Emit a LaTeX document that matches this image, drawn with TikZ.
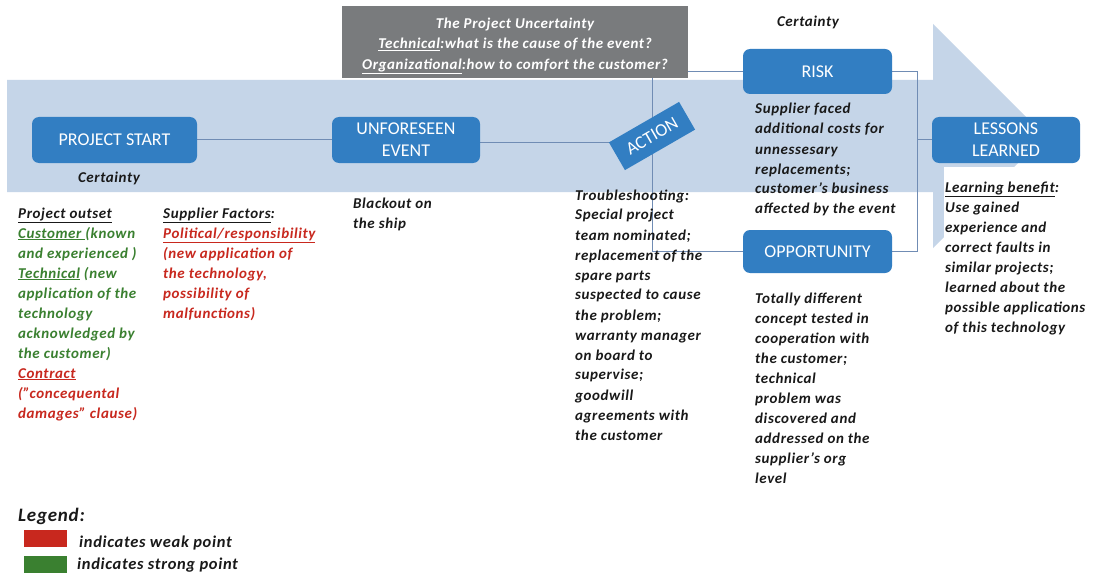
\documentclass[tikz,border=0pt]{standalone}
\usepackage{fontspec}
\setmainfont{Carlito}
\newfontfamily\bodyfont[LetterSpace=4]{Carlito}
\usetikzlibrary{backgrounds}
\definecolor{bandblue}{RGB}{197,213,232}
\definecolor{boxblue}{RGB}{50,126,194}
\definecolor{linkblue}{RGB}{112,140,180}
\definecolor{hdrgray}{RGB}{121,123,125}
\definecolor{okgreen}{RGB}{58,128,48}
\definecolor{weakred}{RGB}{200,40,30}
\definecolor{inkblack}{RGB}{25,25,25}
% left-aligned line stack whose baseline is that of its first line
\newcommand\stack[1]{\vtop{\halign{##\hfil\cr#1\crcr}}}
\newcommand\uln[1]{\underline{#1}}
\newcommand\bodytxt{\bodyfont\bfseries\itshape\fontsize{15}{20}\selectfont}
\newcommand\labeltxt{\fontsize{18}{22}\selectfont}
\begin{document}
\begin{tikzpicture}[x=1pt,y=-1pt,
  stage/.style={fill=boxblue, rounded corners=7pt, text=white, font=\labeltxt,
    align=center, inner sep=0pt},
  actionbox/.style={fill=boxblue, text=white, font=\fontsize{18}{20}\selectfont,
    rotate=30, minimum width=81pt, minimum height=32pt, inner sep=0pt},
  link/.style={draw=linkblue, line width=1pt},
  body/.style={anchor=base west, inner sep=0pt, font=\bodytxt, text=inkblack},
  swatch/.style={minimum width=43pt, minimum height=17pt, inner sep=0pt}]
\useasboundingbox (0,0) rectangle (1100,575);

% stages along the arrow
\node[stage, minimum width=165pt, minimum height=46pt] (ps) at (114.5,140) {PROJECT START};
\node[stage, minimum width=148pt, minimum height=46pt] (ue) at (406,140) {UNFORESEEN\\EVENT};
\node[actionbox] (act) at (652,136) {ACTION};
\node[stage, minimum width=149pt, minimum height=45pt] (risk) at (817.5,71.5) {RISK};
\node[stage, minimum width=149pt, minimum height=43pt] (opp) at (817.5,251.5) {OPPORTUNITY};
\node[stage, minimum width=148pt, minimum height=46pt] (ll) at (1006,140) {LESSONS\\LEARNED};
\coordinate (rj) at (917,140);

% page, timeline arrow and connectors behind the stages
\begin{scope}[on background layer]
  \fill[white] (0,0) rectangle (1100,575);
  \fill[bandblue] (7,80) -- (933,80) -- (933,24) -- (1045,136) -- (933,248)
    -- (933,192) -- (7,192) -- cycle;
  \draw[link] (ps.east) -- (ue.west);
  \draw[link] (act.north west) -- (act.north west -| ue.east);
  \draw[link] (risk.west) -- (risk.west -| act.center) -- (opp.west -| act.center) -- (opp.west);
  \draw[link] (risk.east) -- (risk.east -| rj) -- (opp.east -| rj) -- (opp.east);
  \draw[link] (rj |- ll.west) -- (ll.west);
\end{scope}

% uncertainty header
\node[fill=hdrgray, minimum width=346pt, minimum height=72pt, inner sep=0pt] (hdr) at (515,42) {};
\node[text=white, align=center, inner sep=0pt,
  font=\bodyfont\bfseries\itshape\fontsize{15}{20.5}\selectfont]
  (hdrtx) at (515,46) {The Project Uncertainty\\
  \uln{Technical}:what is the cause of the event?\\
  \uln{Organizational}:how to comfort the customer?};

% certainty labels
\node[body, anchor=base] (c1) at (109,182) {Certainty};
\node[body, anchor=base] (c2) at (808,27) {Certainty};

% descriptions
\node[body] (outset) at (18,218) {\stack{%
  \uln{Project outset}\cr
  \textcolor{okgreen}{\uln{Customer\ }(known}\cr
  \textcolor{okgreen}{and experienced )}\cr
  \textcolor{okgreen}{\uln{Technical} (new}\cr
  \textcolor{okgreen}{application of the}\cr
  \textcolor{okgreen}{technology}\cr
  \textcolor{okgreen}{acknowledged by}\cr
  \textcolor{okgreen}{the customer)}\cr
  \textcolor{weakred}{\uln{Contract}}\cr
  \textcolor{weakred}{(”concequental}\cr
  \textcolor{weakred}{damages” clause)}}};

\node[body] (supp) at (163,218) {\stack{%
  \uln{Supplier Factors}:\cr
  \textcolor{weakred}{\uln{Political/responsibility}}\cr
  \textcolor{weakred}{(new application of}\cr
  \textcolor{weakred}{the technology,}\cr
  \textcolor{weakred}{possibility of}\cr
  \textcolor{weakred}{malfunctions)}}};

\node[body] (blk) at (353,208) {\stack{Blackout on\cr the ship}};

\node[body] (trb) at (575,200) {\stack{%
  Troubleshooting:\cr Special project\cr team nominated;\cr replacement of the\cr
  spare parts\cr suspected to cause\cr the problem;\cr warranty manager\cr
  on board to\cr supervise;\cr goodwill\cr agreements with\cr the customer}};

\node[body] (risktx) at (755,114) {\stack{%
  Supplier faced\cr additional costs for\cr unnessesary\cr replacements;\cr
  customer’s business\cr affected by the event}};

\node[body] (opptx) at (755,303) {\stack{%
  Totally different\cr concept tested in\cr cooperation with\cr the customer;\cr
  technical\cr problem was\cr discovered and\cr addressed on the\cr
  supplier’s org\cr level}};

\node[body, fill=white, inner xsep=1pt, inner ysep=14pt] (learn) at (944,192) {\stack{%
  \uln{Learning benefit}:\cr Use gained\cr experience and\cr correct faults in\cr
  similar projects;\cr learned about the\cr possible applications\cr of this technology}};

% legend
\node[body, font=\bodyfont\bfseries\itshape\fontsize{19}{22}\selectfont] (lg) at (18,521) {Legend:};
\node[swatch, fill=weakred] (wk) at (45.5,538.5) {};
\node[swatch, fill=okgreen] (st) at (45.5,564.5) {};
\node[body, font=\bodyfont\bfseries\itshape\fontsize{16.5}{20}\selectfont] (wktx) at (79,547) {indicates weak point};
\node[body, font=\bodyfont\bfseries\itshape\fontsize{16.5}{20}\selectfont] (sttx) at (77,569) {indicates strong point};
\end{tikzpicture}
\end{document}
